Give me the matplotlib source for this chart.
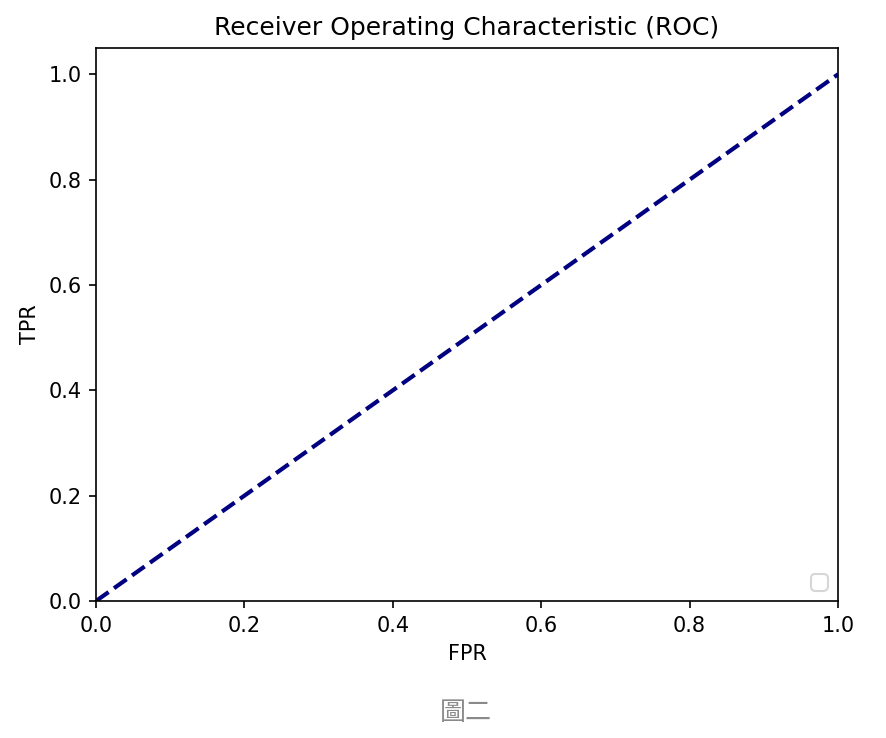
import matplotlib.pyplot as plt

# données de la courbe (diagonale)
fpr = [0, 1]
tpr = [0, 1]

fig = plt.figure(figsize=(886 / 150, 738 / 150), dpi=150)
ax = fig.add_axes([96 / 886, 1 - 601 / 738, (838 - 96) / 886, (601 - 48) / 738])

ax.plot(fpr, tpr, color='navy', lw=2, linestyle='--')
ax.set_xlim([0.0, 1.0])
ax.set_ylim([0.0, 1.05])
ax.set_xlabel('FPR')
ax.set_ylabel('TPR')
ax.set_title('Receiver Operating Characteristic (ROC)')
ax.legend(loc='lower right')

fig.text(466 / 886, 1 - 712 / 738, '圖二', ha='center', va='center', fontsize=12.5,
         color='#8a8a8a', fontweight='light', family=['Noto Sans CJK TC', 'DejaVu Sans'])

fig.savefig('out.png', dpi=150)
